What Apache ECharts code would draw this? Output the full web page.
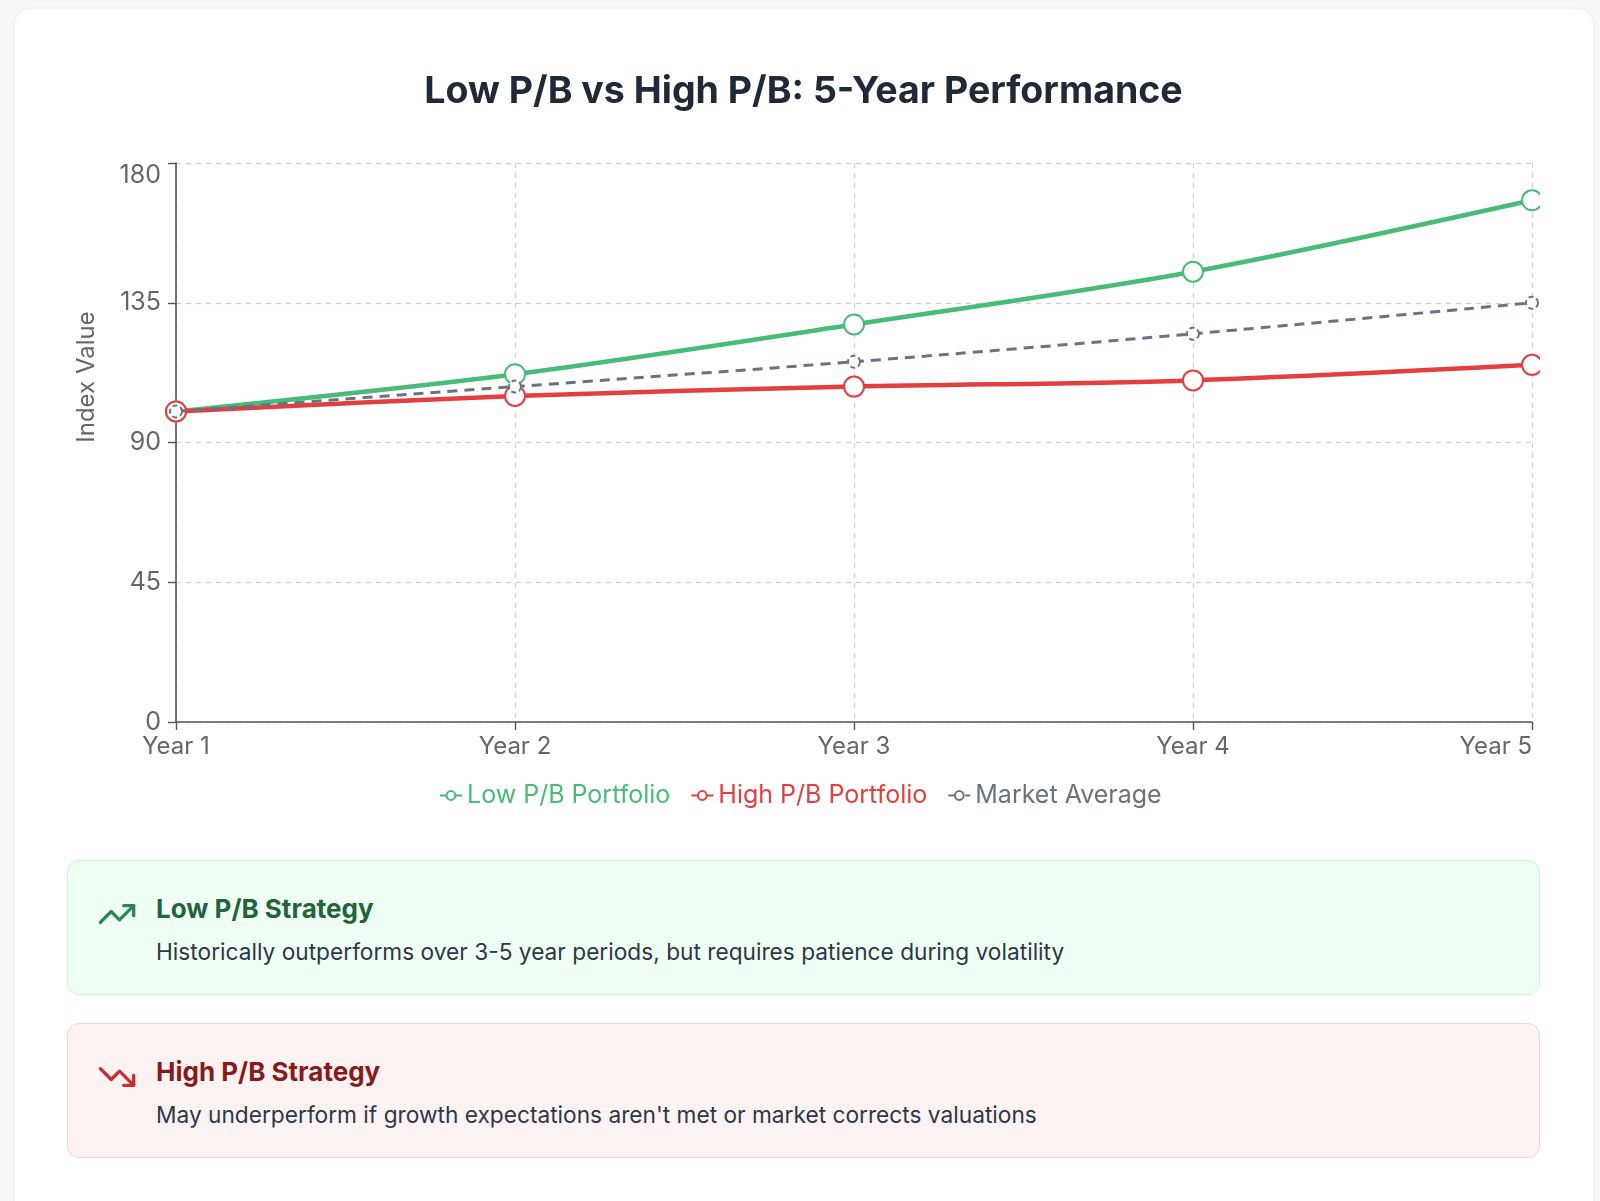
<!DOCTYPE html>
<html>
<head>
<meta charset="utf-8">
<script src="https://cdn.jsdelivr.net/npm/echarts@6/dist/echarts.min.js"></script>
<style>
  html, body { margin:0; padding:0; width:1600px; height:1201px; overflow:hidden; background:#f7f8fa; font-family:Inter, "Noto Sans", sans-serif; }
  #card { position:absolute; left:15px; top:9px; width:1578px; height:1260px; background:#fff; border-radius:16px; box-shadow:0 1px 4px rgba(0,0,0,0.08); }
  #chart { position:absolute; left:67px; top:50px; width:1473px; height:770px; }
  .box { position:absolute; left:67px; width:1473px; height:135px; box-sizing:border-box; border-radius:12px; border:1.5px solid; }
  .box .ttl { position:absolute; left:88px; top:35px; font-size:26px; line-height:26px; font-weight:700; white-space:nowrap; }
  .box .desc { position:absolute; left:88px; top:80px; font-size:22.7px; line-height:22px; color:#2d3748; white-space:nowrap; }
  .box svg { position:absolute; left:29px; top:33px; }
  #g { top:860px; background:#f0fff4; border-color:#c6f6d5; }
  #r { top:1023px; background:#fdf2f2; border-color:#fbd0d0; }
</style>
</head>
<body>
<div id="card"></div>
<div id="chart"></div>
<div class="box" id="g">
  <svg width="40" height="40" viewBox="0 0 24 24" fill="none" stroke="#2f855a" stroke-width="2" stroke-linecap="round" stroke-linejoin="round"><polyline points="22 7 13.5 15.5 8.5 10.5 2 17"/><polyline points="16 7 22 7 22 13"/></svg>
  <div class="ttl" style="color:#22653a">Low P/B Strategy</div>
  <div class="desc">Historically outperforms over 3-5 year periods, but requires patience during volatility</div>
</div>
<div class="box" id="r">
  <svg width="40" height="40" viewBox="0 0 24 24" fill="none" stroke="#c53030" stroke-width="2" stroke-linecap="round" stroke-linejoin="round"><polyline points="2 7 8.5 13.5 13.5 8.5 22 17"/><polyline points="16 17 22 17 22 11"/></svg>
  <div class="ttl" style="color:#861b1b">High P/B Strategy</div>
  <div class="desc">May underperform if growth expectations aren't met or market corrects valuations</div>
</div>
<script>
const years = ['Year 1', 'Year 2', 'Year 3', 'Year 4', 'Year 5'];
const lowPB = [100, 112, 128, 145, 168];
const highPB = [100, 105, 108, 110, 115];
const marketAvg = [100, 108, 116, 125, 135];
const seriesNames = ['Low P/B Portfolio', 'High P/B Portfolio', 'Market Average'];
const yTicks = { min: 0, max: 180, interval: 45 };

const GREEN = '#48bb78', RED = '#e53e3e', GRAY = '#6b7280';
const FONT = 'Inter, "Noto Sans", sans-serif';

const chart = echarts.init(document.getElementById('chart'), null, { renderer: 'canvas' });
chart.setOption({
  animation: false,
  title: {
    text: 'Low P/B vs High P/B: 5-Year Performance',
    left: 'center', top: 18,
    textStyle: { fontSize: 37.5, fontWeight: 700, color: '#1f2937', fontFamily: FONT }
  },
  legend: {
    top: 728, left: 367,
    itemWidth: 22, itemHeight: 11, itemGap: 20,
    textStyle: { fontSize: 25, fontFamily: FONT },
    data: [
      { name: seriesNames[0], textStyle: { color: GREEN } },
      { name: seriesNames[1], textStyle: { color: RED } },
      { name: seriesNames[2], textStyle: { color: GRAY } }
    ]
  },
  grid: { left: 109, right: 8, top: 113, bottom: 98, containLabel: false },
  graphic: [{
    type: 'text', x: 20, y: 327, rotation: Math.PI / 2,
    style: { text: 'Index Value', fontSize: 24, fill: '#666', fontFamily: FONT, align: 'center', verticalAlign: 'middle' }
  }],
  xAxis: {
    type: 'category', data: years, boundaryGap: false,
    axisLine: { lineStyle: { color: '#555', width: 1.6 } },
    axisTick: { show: true, length: 8, lineStyle: { color: '#555', width: 1.4 } },
    axisLabel: { fontSize: 24, color: '#666', margin: 13, fontFamily: FONT, alignMaxLabel: 'right' },
    splitLine: { show: true, lineStyle: { color: '#cfcfcf', type: [5, 5], width: 1.2 } }
  },
  yAxis: {
    type: 'value', min: yTicks.min, max: yTicks.max, interval: yTicks.interval,
    axisLine: { show: true, lineStyle: { color: '#555', width: 1.6 } },
    axisTick: { show: true, length: 8, lineStyle: { color: '#555', width: 1.4 } },
    axisLabel: {
      fontSize: 25, color: '#666', margin: 15, fontFamily: FONT,
      formatter: function (v) { return v === yTicks.max ? '{t|' + v + '}' : String(v); },
      rich: { t: { fontSize: 25, color: '#666', fontFamily: FONT, padding: [24, 0, 0, 0] } }
    },
    splitLine: { show: true, lineStyle: { color: '#cfcfcf', type: [5, 5], width: 1.2 } }
  },
  series: [
    {
      name: seriesNames[0], type: 'line', data: lowPB, smooth: 0.3,
      symbol: 'emptyCircle', symbolSize: 20,
      lineStyle: { color: GREEN, width: 4.5 },
      itemStyle: { color: GREEN, borderColor: GREEN, borderWidth: 4.5 }, z: 3
    },
    {
      name: seriesNames[1], type: 'line', data: highPB, smooth: 0.3,
      symbol: 'emptyCircle', symbolSize: 20,
      lineStyle: { color: RED, width: 4.5 },
      itemStyle: { color: RED, borderColor: RED, borderWidth: 4.5 }, z: 4
    },
    {
      name: seriesNames[2], type: 'line', data: marketAvg, smooth: 0.3,
      symbol: 'emptyCircle', symbolSize: 12,
      lineStyle: { color: GRAY, width: 3, type: [10, 7] },
      itemStyle: { color: GRAY, borderColor: GRAY, borderWidth: 3, borderType: [5, 3] }, z: 5
    }
  ]
});
</script>
</body>
</html>
